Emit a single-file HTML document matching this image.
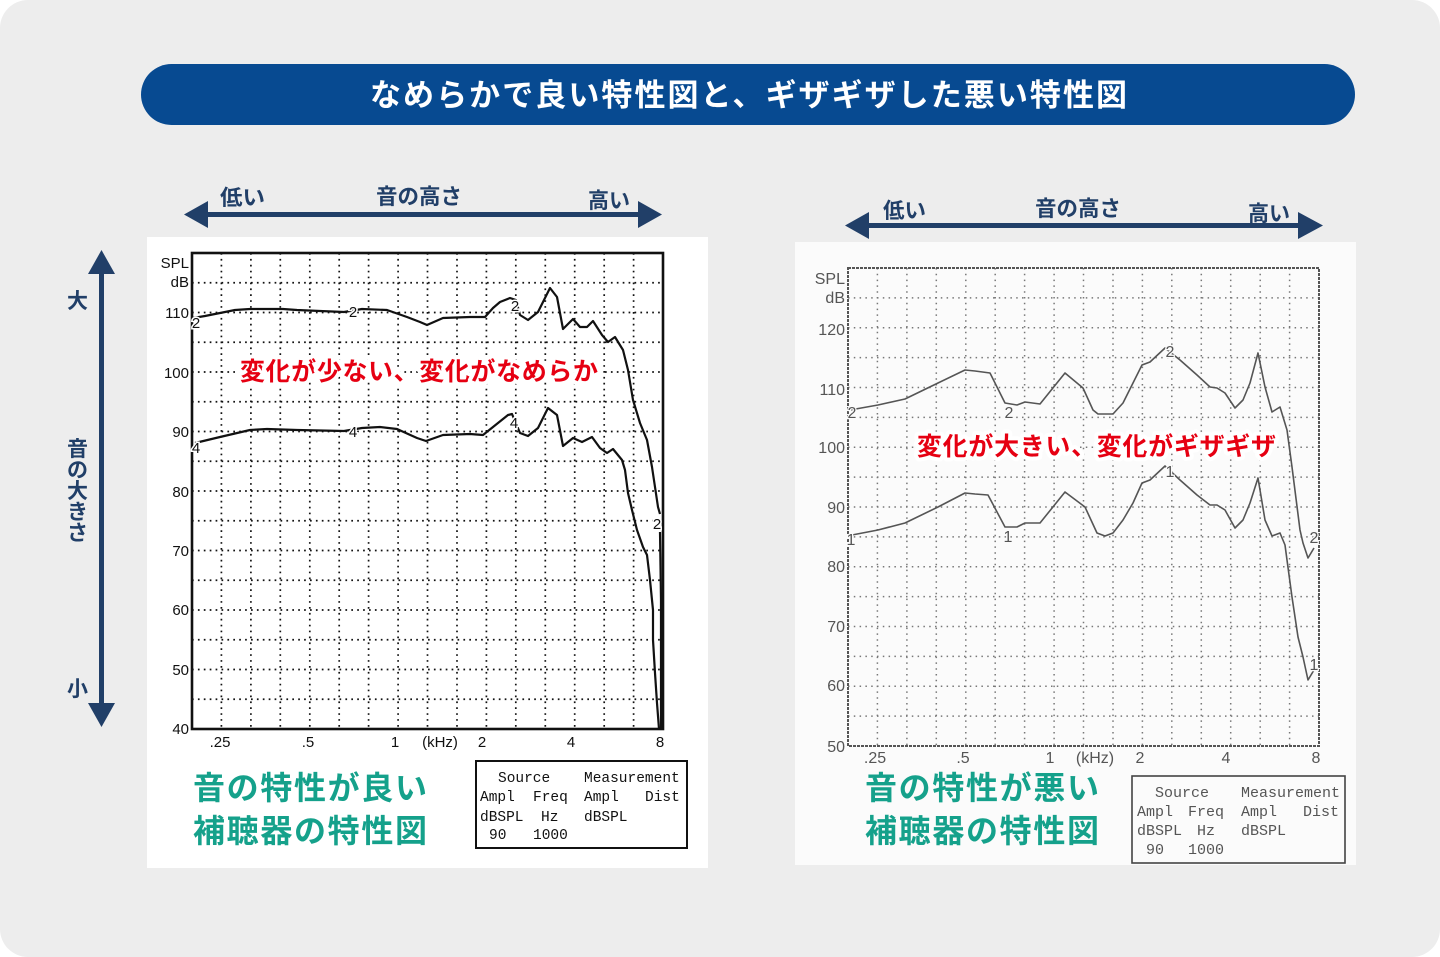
<!DOCTYPE html>
<html lang="ja">
<head>
<meta charset="utf-8">
<style>
  html,body{margin:0;padding:0;background:#ffffff;}
  svg{display:block;}
  .jp{font-family:"Liberation Sans","Noto Sans CJK JP",sans-serif;font-weight:bold;}
  .ax{font-family:"Liberation Sans",sans-serif;font-size:15px;fill:#111;}
  .axr{font-family:"Liberation Sans",sans-serif;font-size:16px;fill:#555;}
  .mono{font-family:"Liberation Mono",monospace;font-size:14.5px;fill:#111;}
  .monor{font-family:"Liberation Mono",monospace;font-size:15px;fill:#555;}
</style>
</head>
<body>
<svg width="1440" height="957" viewBox="0 0 1440 957" xmlns="http://www.w3.org/2000/svg">
  <rect x="0" y="0" width="1440" height="957" fill="#ffffff"/>
  <rect x="0" y="0" width="1440" height="957" rx="28" ry="28" fill="#ededed"/>

  <rect x="141" y="64" width="1214" height="61" rx="30.5" ry="30.5" fill="#074a91"/>
  <text class="jp" x="370" y="106" font-size="31" fill="#ffffff" textLength="757" lengthAdjust="spacing">なめらかで良い特性図と、ギザギザした悪い特性図</text>

  <g fill="#213f68">
    <rect x="205" y="212" width="437" height="5"/>
    <polygon points="184,214.5 208,201 208,228"/>
    <polygon points="662,214.5 638,201 638,228"/>
  </g>
  <text class="jp" x="220" y="205" font-size="21.5" fill="#213f68" textLength="45" lengthAdjust="spacingAndGlyphs">低い</text>
  <text class="jp" x="376" y="204" font-size="21.5" fill="#213f68" textLength="86" lengthAdjust="spacingAndGlyphs">音の高さ</text>
  <text class="jp" x="588" y="208" font-size="21.5" fill="#213f68" textLength="42" lengthAdjust="spacingAndGlyphs">高い</text>

  <g fill="#213f68">
    <rect x="866" y="223" width="435" height="5"/>
    <polygon points="845,225.5 869,212 869,239"/>
    <polygon points="1323,225.5 1298,212 1298,239"/>
  </g>
  <text class="jp" x="883" y="218" font-size="21.5" fill="#213f68" textLength="43" lengthAdjust="spacingAndGlyphs">低い</text>
  <text class="jp" x="1035" y="216" font-size="21.5" fill="#213f68" textLength="86" lengthAdjust="spacingAndGlyphs">音の高さ</text>
  <text class="jp" x="1248" y="221" font-size="21.5" fill="#213f68" textLength="42" lengthAdjust="spacingAndGlyphs">高い</text>

  <g fill="#213f68">
    <rect x="99" y="270" width="5" height="436"/>
    <polygon points="101.5,250 88,274 115,274"/>
    <polygon points="101.5,727 88,703 115,703"/>
  </g>
  <g class="jp" font-size="21" fill="#213f68" text-anchor="middle">
    <text x="77.5" y="308">大</text>
    <text x="77.5" y="456">音</text>
    <text x="77.5" y="477">の</text>
    <text x="77.5" y="498">大</text>
    <text x="77.5" y="519">き</text>
    <text x="77.5" y="540">さ</text>
    <text x="77.5" y="696">小</text>
  </g>

  <!-- LEFT PANEL -->
  <rect x="147" y="237" width="561" height="631" fill="#ffffff"/>
  <path fill="none" stroke="#111" stroke-width="1.7" stroke-dasharray="1.7 4.2"
    d="M192 282.75H663M192 312.5H663M192 342.25H663M192 372H663M192 401.75H663M192 431.5H663M192 461.25H663M192 491H663M192 520.75H663M192 550.5H663M192 580.25H663M192 610H663M192 639.75H663M192 669.5H663M192 699.25H663
       M221.4 253V729M250.9 253V729M280.3 253V729M309.8 253V729M339.2 253V729M368.6 253V729M398.1 253V729M427.5 253V729M457 253V729M486.4 253V729M515.8 253V729M545.3 253V729M574.7 253V729M604.2 253V729M633.6 253V729"/>
  <rect x="192" y="253" width="471" height="476" fill="none" stroke="#111" stroke-width="2.6"/>
  <g class="ax" text-anchor="end">
    <text x="189" y="268">SPL</text>
    <text x="189" y="287">dB</text>
    <text x="189" y="318">110</text>
    <text x="189" y="378">100</text>
    <text x="189" y="437">90</text>
    <text x="189" y="497">80</text>
    <text x="189" y="556">70</text>
    <text x="189" y="615">60</text>
    <text x="189" y="675">50</text>
    <text x="189" y="734">40</text>
  </g>
  <g class="ax" text-anchor="middle">
    <text x="220" y="747">.25</text>
    <text x="308" y="747">.5</text>
    <text x="395" y="747">1</text>
    <text x="440" y="747">(kHz)</text>
    <text x="482" y="747">2</text>
    <text x="571" y="747">4</text>
    <text x="660" y="747">8</text>
  </g>
  <g fill="none" stroke="#111" stroke-width="2.2" stroke-linejoin="round">
    <polyline points="193,318 205,316 220,313 235,310 250,309 283,309 297,310 320,311 344,312 362,309 387,310 407,317 420,322 427,325 443,318 470,317 485,317 493,308 500,302 510,298 516,300 520,315 528,320 538,312 550,288 557,297 563,329 573,319 580,327 587,327 593,321 602,335 608,342 615,337 623,350 628,370 633,400 640,423 647,440 652,467 655,487 658,507 660,514"/>
    <polyline points="660,532 661,600 661,729"/>
    <polyline points="195,443 220,437 250,430 267,429 297,430 344,431 362,428 380,427 397,429 417,438 426,441 443,435 470,434 483,435 493,427 508,415 512,414 520,433 528,436 538,428 548,408 557,415 563,446 573,438 582,442 592,437 600,448 607,453 613,449 622,460 625,470 628,493 632,510 637,530 643,547 647,555 650,580 653,610 653,640 655,673 657,703 659,729"/>
  </g>
  <g class="ax" text-anchor="middle" font-size="15" stroke="#fff" stroke-width="3" paint-order="stroke">
    <text x="196" y="328">2</text>
    <text x="353" y="317">2</text>
    <text x="515" y="311">2</text>
    <text x="196" y="453">4</text>
    <text x="353" y="437">4</text>
    <text x="514" y="428">4</text>
    <text x="657" y="529">2</text>
  </g>
  <text class="jp" x="240" y="380" font-size="25" fill="#e60012" stroke="#ffffff" stroke-width="8" stroke-linejoin="round" paint-order="stroke" textLength="358" lengthAdjust="spacing">変化が少ない、変化がなめらか</text>
  <text class="jp" x="193" y="799" font-size="32" fill="#15a18b" textLength="234" lengthAdjust="spacing">音の特性が良い</text>
  <text class="jp" x="193" y="842" font-size="32" fill="#15a18b" textLength="234" lengthAdjust="spacing">補聴器の特性図</text>
  <rect x="476" y="761" width="211" height="87" fill="#fff" stroke="#111" stroke-width="2"/>
  <g class="mono">
    <text x="498" y="782">Source</text>
    <text x="584" y="782">Measurement</text>
    <text x="480" y="801">Ampl</text>
    <text x="533" y="801">Freq</text>
    <text x="584" y="801">Ampl</text>
    <text x="645" y="801">Dist</text>
    <text x="480" y="821">dBSPL</text>
    <text x="541" y="821">Hz</text>
    <text x="584" y="821">dBSPL</text>
    <text x="489" y="839">90</text>
    <text x="533" y="839">1000</text>
  </g>

  <!-- RIGHT PANEL -->
  <rect x="795" y="242" width="561" height="623" fill="#fbfbfb"/>
  <path fill="none" stroke="#777" stroke-width="1.5" stroke-dasharray="1.5 4.3"
    d="M848 297.9H1319M848 327.75H1319M848 357.6H1319M848 387.5H1319M848 417.4H1319M848 447.25H1319M848 477.1H1319M848 507H1319M848 536.9H1319M848 566.75H1319M848 596.6H1319M848 626.5H1319M848 656.4H1319M848 686.25H1319M848 716.1H1319
       M877.4 268V746M906.9 268V746M936.3 268V746M965.8 268V746M995.2 268V746M1024.6 268V746M1054.1 268V746M1083.5 268V746M1113 268V746M1142.4 268V746M1171.8 268V746M1201.3 268V746M1230.7 268V746M1260.2 268V746M1289.6 268V746"/>
  <rect x="848" y="268" width="471" height="478" fill="none" stroke="#555" stroke-width="2" stroke-dasharray="3 1"/>
  <g class="axr" text-anchor="end">
    <text x="845" y="284">SPL</text>
    <text x="845" y="303">dB</text>
    <text x="845" y="335">120</text>
    <text x="845" y="395">110</text>
    <text x="845" y="453">100</text>
    <text x="845" y="513">90</text>
    <text x="845" y="572">80</text>
    <text x="845" y="632">70</text>
    <text x="845" y="691">60</text>
    <text x="845" y="752">50</text>
  </g>
  <g class="axr" text-anchor="middle">
    <text x="875" y="763">.25</text>
    <text x="963" y="763">.5</text>
    <text x="1050" y="763">1</text>
    <text x="1095" y="763">(kHz)</text>
    <text x="1140" y="763">2</text>
    <text x="1226" y="763">4</text>
    <text x="1316" y="763">8</text>
  </g>
  <g fill="none" stroke="#555" stroke-width="1.6" stroke-linejoin="round">
    <polyline points="850,410 878,405 905,399 938,383 965,370 975,371 990,373 1005,403 1017,405 1025,402 1040,404 1065,373 1083,388 1093,410 1098,414 1113,414 1123,403 1133,383 1142,365 1150,362 1165,348 1180,360 1197,375 1210,387 1217,388 1225,393 1235,408 1243,400 1250,383 1258,353 1265,387 1272,412 1280,407 1287,430 1292,467 1300,530 1303,543 1308,558 1314,548"/>
    <polyline points="852,535 878,530 905,523 938,507 965,493 975,494 988,495 1005,527 1017,527 1025,523 1040,523 1065,492 1085,507 1097,533 1105,536 1113,533 1123,520 1133,503 1142,483 1150,480 1165,466 1180,480 1197,495 1210,505 1217,505 1225,510 1235,528 1243,520 1250,503 1258,478 1265,520 1272,536 1280,533 1285,545 1287,560 1292,597 1298,637 1303,657 1308,680 1314,670"/>
  </g>
  <g class="axr" text-anchor="middle" stroke="#fbfbfb" stroke-width="2.5" paint-order="stroke">
    <text x="852" y="418">2</text>
    <text x="1009" y="418">2</text>
    <text x="1170" y="357">2</text>
    <text x="1314" y="543">2</text>
    <text x="851" y="545">1</text>
    <text x="1008" y="542">1</text>
    <text x="1170" y="477">1</text>
    <text x="1314" y="670">1</text>
  </g>
  <text class="jp" x="917" y="455" font-size="25" fill="#e60012" stroke="#ffffff" stroke-width="8" stroke-linejoin="round" paint-order="stroke" textLength="359" lengthAdjust="spacing">変化が大きい、変化がギザギザ</text>
  <text class="jp" x="865" y="799" font-size="32" fill="#15a18b" textLength="234" lengthAdjust="spacing">音の特性が悪い</text>
  <text class="jp" x="865" y="842" font-size="32" fill="#15a18b" textLength="234" lengthAdjust="spacing">補聴器の特性図</text>
  <rect x="1132" y="776" width="213" height="87" fill="#fbfbfb" stroke="#444" stroke-width="1.6"/>
  <g class="monor">
    <text x="1155" y="797">Source</text>
    <text x="1241" y="797">Measurement</text>
    <text x="1137" y="816">Ampl</text>
    <text x="1188" y="816">Freq</text>
    <text x="1241" y="816">Ampl</text>
    <text x="1303" y="816">Dist</text>
    <text x="1137" y="835">dBSPL</text>
    <text x="1197" y="835">Hz</text>
    <text x="1241" y="835">dBSPL</text>
    <text x="1146" y="854">90</text>
    <text x="1188" y="854">1000</text>
  </g>
</svg>
</body>
</html>
